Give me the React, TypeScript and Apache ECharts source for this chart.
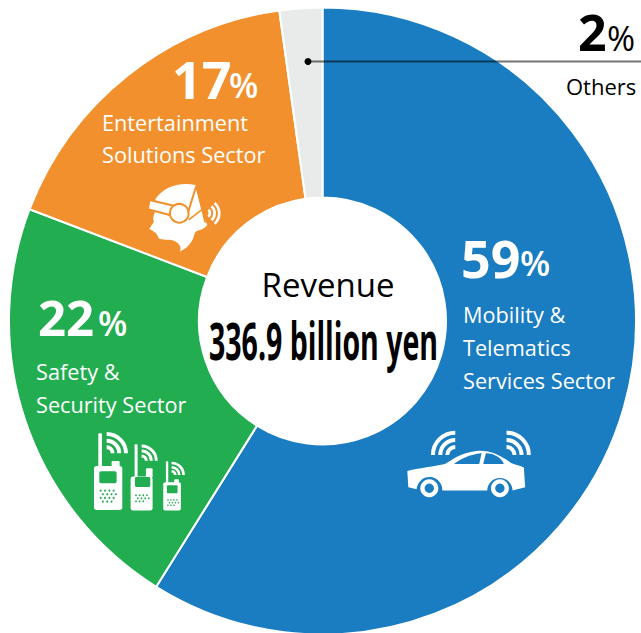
import React, { useEffect, useRef } from "react";
import * as echarts from "echarts";

const sectors = ["Mobility & Telematics Services Sector", "Safety & Security Sector", "Entertainment Solutions Sector", "Others"];
const shares = [58.9, 21.9, 17.0, 2.2];
const colors = ["#1a7cc1", "#22ad50", "#f1902d", "#e9ebea"];
const mobilityLines = ["Mobility &", "Telematics", "Services Sector"];
const safetyLines = ["Safety &", "Security Sector"];
const entertainmentLines = ["Entertainment", "Solutions Sector"];

const FONT = "'Open Sans', 'Noto Sans', sans-serif";

echarts.graphic.registerShape("carBody", echarts.graphic.extendPath("M82 213 C110 205 170 198 195 192 C215 182 240 158 290 153 C330 150 360 165 395 190 C410 195 425 198 432 203 L436 262 L398 272 A38 38 0 0 0 322 272 L187 272 A38 38 0 0 0 110 268 L85 262 Z", {}));
echarts.graphic.registerShape("carWinA", echarts.graphic.extendPath("M222 192 C240 178 270 163 305 160 L298 192 Z", {}));
echarts.graphic.registerShape("carWinB", echarts.graphic.extendPath("M310 192 L318 160 C345 160 365 175 372 192 Z", {}));
echarts.graphic.registerShape("headShape", echarts.graphic.extendPath("M76 88 C100 50 150 35 197 45 C205 80 215 125 232 165 C212 190 198 172 192 198 C186 220 170 235 150 245 C156 230 146 220 135 214 C118 204 100 214 86 205 C82 190 75 186 58 177 L72 155 C66 145 74 130 78 118 Z", {}));

const white = "#fff";
const arcs = (cx: number, cy: number, rs: number[], w: number, a0: number, a1: number, stroke = white) =>
  rs.map((r) => ({
    type: "arc",
    shape: { cx, cy, r, startAngle: (a0 * Math.PI) / 180, endAngle: (a1 * Math.PI) / 180, clockwise: true },
    style: { stroke, lineWidth: w, fill: "none" },
  }));

const rect = (x: number, y: number, width: number, height: number, fill: string, r = 0) => ({
  type: "rect",
  shape: { x, y, width, height, r },
  style: { fill },
});

const dots = (rows: number[][], green: string, s: number) =>
  rows.map(([x, y]) => ({ type: "circle", shape: { cx: x, cy: y, r: s }, style: { fill: green } }));

const grid = (x0: number, y0: number, dx: number, dy: number, counts: number[]) => {
  const out: number[][] = [];
  counts.forEach((n, j) => {
    for (let i = 0; i < n; i++) out.push([x0 + i * dx + (j % 2 ? dx / 2 : 0), y0 + j * dy]);
  });
  return out;
};

const carIcon = {
  type: "group",
  x: 380,
  y: 400,
  scaleX: 1 / 3,
  scaleY: 1 / 3,
  children: [
    { type: "carBody", style: { fill: white } },
    { type: "carWinA", style: { fill: colors[0] } },
    { type: "carWinB", style: { fill: colors[0] } },
    { type: "circle", shape: { cx: 148, cy: 265, r: 27 }, style: { fill: white } },
    { type: "circle", shape: { cx: 148, cy: 265, r: 14 }, style: { fill: colors[0] } },
    { type: "circle", shape: { cx: 360, cy: 265, r: 27 }, style: { fill: white } },
    { type: "circle", shape: { cx: 360, cy: 265, r: 14 }, style: { fill: colors[0] } },
    ...arcs(226, 165, [24, 45, 67], 12, 180, 270),
    ...arcs(380, 165, [24, 45, 67], 12, 270, 360),
  ],
};

const g = colors[1];
const radioIcon = {
  type: "group",
  x: 80,
  y: 420,
  scaleX: 1 / 3,
  scaleY: 1 / 3,
  children: [
    rect(42, 138, 85, 132, white, 8),
    rect(95, 123, 24, 20, white, 4),
    rect(55, 40, 11, 100, white, 3),
    rect(58, 154, 52, 36, g, 5),
    ...dots(grid(62, 212, 13, 11, [4, 4, 4, 3]), g, 3),
    ...arcs(80, 100, [18, 38, 58], 12, 270, 360),
    rect(152, 170, 66, 102, white, 7),
    rect(198, 145, 20, 28, white, 4),
    rect(164, 73, 9, 100, white, 3),
    rect(165, 171, 46, 30, g, 4),
    ...dots(grid(168, 226, 11, 9, [4, 4, 3]), g, 2.6),
    ...arcs(185, 122, [14, 29, 44], 9, 270, 360),
    rect(250, 187, 53, 85, white, 6),
    rect(283, 178, 14, 12, white, 3),
    rect(258, 124, 7, 66, white, 2),
    rect(261, 196, 32, 24, g, 3),
    ...dots(grid(264, 240, 9, 8, [4, 4, 3]), g, 2.2),
    ...arcs(275, 165, [11, 23, 36], 8, 270, 360),
  ],
};

const o = colors[2];
const headIcon = {
  type: "group",
  x: 130,
  y: 170,
  scaleX: 1 / 3,
  scaleY: 1 / 3,
  children: [
    { type: "headShape", style: { fill: white } },
    { type: "polygon", shape: { points: [[58, 90], [135, 108], [122, 136], [54, 118]] }, style: { fill: white, stroke: o, lineWidth: 6 } },
    { type: "circle", shape: { cx: 148, cy: 130, r: 28 }, style: { fill: white, stroke: o, lineWidth: 6 } },
    { type: "line", shape: { x1: 174, y1: 128, x2: 199, y2: 48 }, style: { stroke: o, lineWidth: 6 } },
    { type: "line", shape: { x1: 199, y1: 48, x2: 226, y2: 158 }, style: { stroke: o, lineWidth: 5 } },
    { type: "line", shape: { x1: 176, y1: 150, x2: 215, y2: 120 }, style: { stroke: o, lineWidth: 5 } },
    ...arcs(226, 130, [14, 28, 42], 8, -48, 48),
  ],
};

const txt = (x: number, base: number, text: string, fontSize: number, fill: string, extra: any = {}) => ({
  type: "text",
  x,
  y: base - 0.36 * fontSize,
  style: { text, fontSize, fill, fontFamily: FONT, verticalAlign: "middle", ...extra },
});

const lines = (x: number, y: number, items: string[], dy: number, size: number) =>
  items.map((s, i) => txt(x, y + i * dy, s, size, white));

const lift = (el: any): any => ({ ...el, z: 10, children: el.children ? el.children.map(lift) : undefined });

export default function App() {
  const ref = useRef<HTMLDivElement>(null);
  useEffect(() => {
    document.body.style.margin = "0";
    const chart = echarts.init(ref.current!, undefined, { renderer: "svg" });
    chart.setOption({
      animation: false,
      series: [
        {
          type: "pie",
          center: [322.5, 321],
          radius: [123.5, 313.5],
          startAngle: 90,
          clockwise: true,
          label: { show: false },
          labelLine: { show: false },
          emphasis: { disabled: true },
          itemStyle: { borderColor: "#fff", borderWidth: 2 },
          data: sectors.map((name, i) => ({ name, value: shares[i], itemStyle: { color: colors[i] } })),
        },
      ],
      graphic: [
        txt(461, 276, String(Math.round(shares[0])), 52, white, { fontWeight: 700 }),
        txt(520, 275, "%", 35, white, { fontWeight: 600 }),
        ...lines(463, 322, mobilityLines, 33, 21.7),
        txt(38, 335, String(Math.round(shares[1])), 49, white, { fontWeight: 700 }),
        txt(98, 335, "%", 34, white, { fontWeight: 600 }),
        ...lines(36, 379, safetyLines, 33, 21.7),
        txt(172, 97, String(Math.round(shares[2])), 52, white, { fontWeight: 700 }),
        txt(229, 97, "%", 34, white, { fontWeight: 600 }),
        ...lines(102, 130, entertainmentLines, 32, 21.7),
        txt(578, 50, String(Math.round(shares[3])), 50, "#000", { fontWeight: 700 }),
        txt(607, 50, "%", 34, "#000", { fontWeight: 500 }),
        txt(566, 94, "Others", 22, "#000"),
        { type: "line", shape: { x1: 308, y1: 61.5, x2: 641, y2: 61.5 }, style: { stroke: "rgba(0,0,0,0.55)", lineWidth: 2 } },
        { type: "circle", shape: { cx: 308, cy: 61.5, r: 3.5 }, style: { fill: "#000" } },
        txt(328, 296, "Revenue", 33, "#000", { align: "center", fontWeight: 500 }),
        { ...txt(0, 358, "336.9 billion yen", 52, "#000", { fontWeight: 700, align: "center" }), x: 323.5, scaleX: 0.548, scaleY: 1 },
        carIcon,
        radioIcon,
        headIcon,
      ].map(lift),
    });
    return () => chart.dispose();
  }, []);
  return <div ref={ref} style={{ width: 641, height: 633 }} />;
}
